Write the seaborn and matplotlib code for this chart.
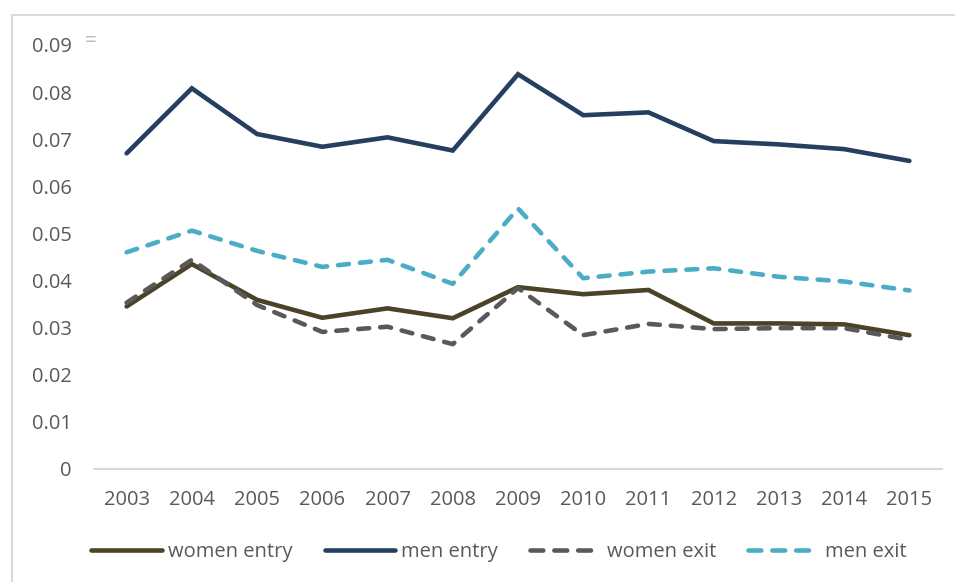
import matplotlib
matplotlib.use("Agg")
import matplotlib.pyplot as plt
import seaborn as sns
import pandas as pd
from matplotlib.lines import Line2D

years = ["2003", "2004", "2005", "2006", "2007", "2008", "2009",
         "2010", "2011", "2012", "2013", "2014", "2015"]
women_entry = [0.0345, 0.0435, 0.0359, 0.0321, 0.0341, 0.0320, 0.0386,
               0.0371, 0.0380, 0.0309, 0.0309, 0.0307, 0.0284]
men_entry = [0.0670, 0.0808, 0.0711, 0.0684, 0.0704, 0.0676, 0.0838,
             0.0751, 0.0757, 0.0696, 0.0689, 0.0679, 0.0654]
women_exit = [0.0353, 0.0444, 0.0348, 0.0291, 0.0302, 0.0265, 0.0384,
              0.0284, 0.0308, 0.0297, 0.0299, 0.0299, 0.0274]
men_exit = [0.0460, 0.0506, 0.0463, 0.0429, 0.0444, 0.0393, 0.0553,
            0.0405, 0.0419, 0.0426, 0.0408, 0.0398, 0.0379]
series_names = ["women entry", "men entry", "women exit", "men exit"]
yticks = [0, 0.01, 0.02, 0.03, 0.04, 0.05, 0.06, 0.07, 0.08, 0.09]
ytick_labels = ["0", "0.01", "0.02", "0.03", "0.04", "0.05", "0.06", "0.07", "0.08", "0.09"]

colors = ["#4A4328", "#243F60", "#595959", "#4BACC6"]
dashed = [False, False, True, True]

sns.set_style("white")
plt.rcParams['font.family'] = ['Open Sans', 'DejaVu Sans']

fig = plt.figure(figsize=(9.55, 5.82), dpi=100)
ax = fig.add_axes([94 / 955, 1 - 469 / 582, 848 / 955, 424 / 582])

data = [women_entry, men_entry, women_exit, men_exit]
handles = []
lw = 3.3
for name, vals, col, dsh in zip(series_names, data, colors, dashed):
    df = pd.DataFrame({"year": years, "value": vals})
    kw = dict(color=col, linewidth=lw, solid_capstyle="round", solid_joinstyle="miter")
    if dsh:
        kw.update(linestyle=(0, (2.4, 2.4)), dash_capstyle="round")
    sns.lineplot(data=df, x="year", y="value", ax=ax, sort=False, **kw)
    hkw = dict(color=col, linewidth=lw, solid_capstyle="round")
    if dsh:
        hkw.update(linestyle=(0, (2.8, 2.4)), dash_capstyle="round")
    handles.append(Line2D([0], [0], **hkw))

ax.set_xlim(-0.5, len(years) - 0.5)
ax.set_ylim(0, 0.09)
ax.set_yticks(yticks)
ax.set_yticklabels(ytick_labels)
ax.set_xlabel("")
ax.set_ylabel("")
for s in ["top", "right", "left"]:
    ax.spines[s].set_visible(False)
ax.spines["bottom"].set_color("#D9D9D9")
ax.spines["bottom"].set_linewidth(1.5)
ax.tick_params(axis="both", length=0, labelsize=14.5, labelcolor="#595959")
ax.tick_params(axis="y", pad=16)
ax.tick_params(axis="x", pad=15)
ax.grid(False)

fig.legend(handles, series_names, loc="center", bbox_to_anchor=(0.5225, 1 - 552 / 582),
           ncol=4, frameon=False, fontsize=14.5, labelcolor="#595959",
           handlelength=3.5, handletextpad=0.3, columnspacing=1.6)

# chart border (top and left visible)
fig.add_artist(Line2D([12 / 955, 1.0], [1 - 15 / 582, 1 - 15 / 582],
                      transform=fig.transFigure, color="#D9D9D9", linewidth=1.5))
fig.add_artist(Line2D([12 / 955, 12 / 955], [0.0, 1 - 15 / 582],
                      transform=fig.transFigure, color="#D9D9D9", linewidth=1.5))
fig.text(91 / 955, 1 - 42 / 582, "=", color="#BFBFBF", fontsize=15, ha="center", va="center")

fig.savefig("out.png", dpi=100, facecolor="white")
